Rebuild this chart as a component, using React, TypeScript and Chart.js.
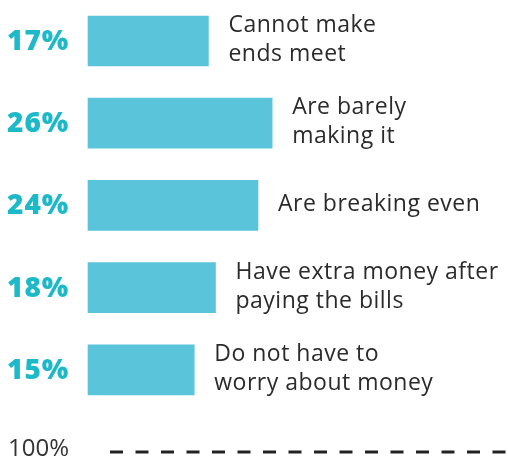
import { useEffect, useRef } from "react";
import { Chart, registerables } from "chart.js";

Chart.register(...registerables);

const categories = [
  "Cannot make ends meet",
  "Are barely making it",
  "Are breaking even",
  "Have extra money after paying the bills",
  "Do not have to worry about money",
];
const labelLines: string[][] = [
  ["Cannot make", "ends meet"],
  ["Are barely", "making it"],
  ["Are breaking even"],
  ["Have extra money after", "paying the bills"],
  ["Do not have to", "worry about money"],
];
const values = [17, 26, 24, 18, 15];
const referenceLabel = "100%";
const xMax = 59.3;

const labelPlugin = {
  id: "customLabels",
  afterDatasetsDraw(chart: any) {
    const ctx = chart.ctx as any;
    const meta = chart.getDatasetMeta(0);
    ctx.save();
    meta.data.forEach((bar: any, i: number) => {
      if (i >= values.length) return;
      const { x, y } = bar.getProps(["x", "y"], true);
      ctx.textAlign = "left";
      ctx.textBaseline = "middle";
      ctx.font = "800 28px 'Open Sans'";
      ctx.letterSpacing = "1px";
      ctx.fillStyle = "#1DB9C9";
      ctx.fillText(values[i] + "%", 7, y + 1);
      ctx.font = "23px 'Open Sans'";
      ctx.letterSpacing = "0.5px";
      ctx.fillStyle = "#2b2b2b";
      const lines = labelLines[i];
      const lh = 29;
      const start = y - ((lines.length - 1) * lh) / 2 - 1;
      lines.forEach((ln, j) => ctx.fillText(ln, x + 20, start + j * lh));
    });
    const yRef = chart.scales.y.getPixelForValue(values.length);
    ctx.font = "24px 'Open Sans'";
    ctx.letterSpacing = "0px";
    ctx.fillStyle = "#333333";
    ctx.textBaseline = "middle";
    ctx.fillText(referenceLabel, 8, yRef - 3);
    ctx.beginPath();
    ctx.setLineDash([13, 12.5]);
    ctx.lineWidth = 3;
    ctx.strokeStyle = "#222222";
    ctx.moveTo(110, yRef);
    ctx.lineTo(508, yRef);
    ctx.stroke();
    ctx.restore();
  },
};

export default function App() {
  const ref = useRef<HTMLCanvasElement | null>(null);
  useEffect(() => {
    if (!ref.current) return;
    const chart = new Chart(ref.current, {
      type: "bar",
      data: {
        labels: [...categories, referenceLabel],
        datasets: [
          {
            data: [...values, null],
            backgroundColor: "#5AC5DA",
            borderWidth: 0,
            barThickness: 50,
            clip: false as any,
          },
        ],
      },
      options: {
        indexAxis: "y",
        animation: false,
        responsive: false,
        layout: { padding: { left: 88, right: 0, top: 41, bottom: 6 } },
        plugins: { legend: { display: false }, tooltip: { enabled: false } },
        scales: {
          x: { min: 0, max: xMax, display: false },
          y: { type: "category", offset: false, display: false, grid: { display: false } },
        },
      },
      plugins: [labelPlugin],
    });
    return () => chart.destroy();
  }, []);
  return (
    <div style={{ position: "absolute", left: 0, top: 0, width: 508, height: 458, background: "#fff" }}>
      <canvas ref={ref} width={508} height={458} />
    </div>
  );
}
